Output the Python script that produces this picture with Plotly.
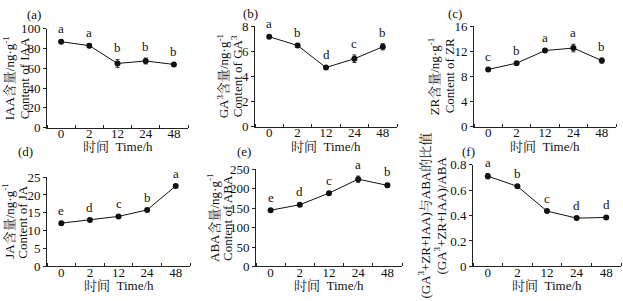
import plotly.graph_objects as go

W, H = 623, 301
FONT = "Liberation Serif, Times New Roman, Noto Serif CJK SC, Noto Sans CJK SC, serif"

times = ["0", "2", "12", "24", "48"]

iaa = [87, 83, 65, 67.5, 64]
iaa_err = [1.5, 2, 4, 3, 1.5]
iaa_sig = ["a", "a", "b", "b", "b"]

ga3 = [7.15, 6.45, 4.7, 5.4, 6.35]
ga3_err = [0.1, 0.15, 0.1, 0.3, 0.25]
ga3_sig = ["a", "b", "d", "c", "b"]

zr = [9.1, 10.1, 12.1, 12.5, 10.5]
zr_err = [0.2, 0.2, 0.3, 0.6, 0.4]
zr_sig = ["c", "b", "a", "a", "b"]

ja = [12.1, 13.0, 14.0, 15.8, 22.5]
ja_err = [0.3, 0.3, 0.3, 0.4, 0.4]
ja_sig = ["e", "d", "c", "b", "a"]

aba = [145, 159, 189, 225, 209]
aba_err = [3, 4, 4, 8, 5]
aba_sig = ["e", "d", "c", "a", "b"]

ratio = [0.71, 0.63, 0.435, 0.38, 0.385]
ratio_err = [0.02, 0.01, 0.01, 0.01, 0.01]
ratio_sig = ["a", "b", "c", "d", "d"]

panels = [
    dict(lab="(a)", y=iaa, e=iaa_err, s=iaa_sig, rng=100, dt=20,
         t1="IAA含量/ng·g<sup>-1</sup>", t2="Content of IAA",
         px=(47, 188), py=(23, 127), tx=(9, 24), labxy=(34, 8)),
    dict(lab="(b)", y=ga3, e=ga3_err, s=ga3_sig, rng=8, dt=2,
         t1="GA<sup>3</sup>含量/ng·g<sup>-1</sup>", t2="Content of GA<sup>3</sup>",
         px=(255, 397), py=(20, 126), tx=(223, 237), labxy=(250, 7)),
    dict(lab="(c)", y=zr, e=zr_err, s=zr_sig, rng=16, dt=4,
         t1="ZR含量/ng·g<sup>-1</sup>", t2="Content of ZR",
         px=(474, 616), py=(20, 126), tx=(434, 449), labxy=(455, 7)),
    dict(lab="(d)", y=ja, e=ja_err, s=ja_sig, rng=25, dt=5,
         t1="JA含量/ng·g<sup>-1</sup>", t2="Content of JA",
         px=(47, 190), py=(179, 273), tx=(8, 23), labxy=(25, 152)),
    dict(lab="(e)", y=aba, e=aba_err, s=aba_sig, rng=250, dt=50,
         t1="ABA含量/ng·g<sup>-1</sup>", t2="Content of ABA",
         px=(256, 402), py=(171, 273), tx=(213, 228), labxy=(244, 152)),
    dict(lab="(f)", y=ratio, e=ratio_err, s=ratio_sig, rng=0.8, dt=0.2,
         t1="(GA<sup>3</sup>+ZR+IAA)与ABA的比值", t2="(GA<sup>3</sup>+ZR+IAA)/ABA",
         px=(473, 621), py=(166, 273), tx=(424, 440), labxy=(469, 152)),
]

fig = go.Figure()
annotations = []
xpos = [0.5, 1.5, 2.5, 3.5, 4.5]

for i, p in enumerate(panels):
    n = i + 1
    xa = "x" if n == 1 else f"x{n}"
    ya = "y" if n == 1 else f"y{n}"
    fig.add_trace(go.Scatter(
        x=xpos, y=p["y"], xaxis=xa, yaxis=ya, mode="lines+markers",
        line=dict(color="#111", width=1),
        marker=dict(color="#111", size=6),
        error_y=dict(type="data", array=p["e"], color="#333", thickness=1, width=2),
        showlegend=False, cliponaxis=False,
    ))
    xd = [p["px"][0] / W, p["px"][1] / W]
    yd = [1 - p["py"][1] / H, 1 - p["py"][0] / H]
    axkey_x = "xaxis" if n == 1 else f"xaxis{n}"
    axkey_y = "yaxis" if n == 1 else f"yaxis{n}"
    fig.layout[axkey_x] = dict(
        domain=xd, anchor=ya, range=[0, 5], fixedrange=True,
        tickmode="array", tickvals=xpos, ticktext=times, ticks="",
        ticklabelstandoff=-6,
        showline=True, linecolor="#222", linewidth=1, showgrid=False, zeroline=False,
        tickfont=dict(family=FONT, size=13, color="#111"),
        minor=dict(tickmode="linear", tick0=0, dtick=1, ticks="inside", ticklen=3,
                   tickcolor="#222", showgrid=False),
    )
    fig.layout[axkey_y] = dict(
        domain=yd, anchor=xa, range=[0, p["rng"]], dtick=p["dt"], tick0=0,
        ticks="outside", ticklen=3, tickcolor="#222", fixedrange=True,
        showline=True, linecolor="#222", linewidth=1, showgrid=False, zeroline=False,
        tickfont=dict(family=FONT, size=13, color="#111"),
    )
    for xv, yv, ev, s in zip(xpos, p["y"], p["e"], p["s"]):
        annotations.append(dict(
            x=xv, y=yv + ev, xref=xa, yref=ya, text=s, showarrow=False,
            yanchor="bottom", yshift=2, font=dict(family=FONT, size=13, color="#111"),
        ))
    ymid = 1 - (p["py"][0] + p["py"][1]) / 2 / H
    for tx, t in zip(p["tx"], [p["t1"], p["t2"]]):
        annotations.append(dict(
            x=tx / W, y=ymid, xref="paper", yref="paper", text=t, showarrow=False,
            textangle=-90, xanchor="center", yanchor="middle",
            font=dict(family=FONT, size=13, color="#111"),
        ))
    xt_y = 147 if n <= 3 else 293
    annotations.append(dict(
        x=(p["px"][0] + p["px"][1]) / 2 / W, y=1 - xt_y / H, xref="paper", yref="paper",
        text="时间\u00a0 Time/h", showarrow=False, xanchor="center", yanchor="middle",
        font=dict(family=FONT, size=13, color="#111"),
    ))
    annotations.append(dict(
        x=p["labxy"][0] / W, y=1 - p["labxy"][1] / H, xref="paper", yref="paper",
        text=p["lab"], showarrow=False, xanchor="center", yanchor="middle",
        font=dict(family=FONT, size=13, color="#111"),
    ))

fig.update_layout(
    width=W, height=H, margin=dict(l=0, r=0, t=0, b=0),
    paper_bgcolor="white", plot_bgcolor="white",
    annotations=annotations,
)
fig.write_html("out.html", config={"displayModeBar": False},
               post_script="document.body.style.margin='0';")
